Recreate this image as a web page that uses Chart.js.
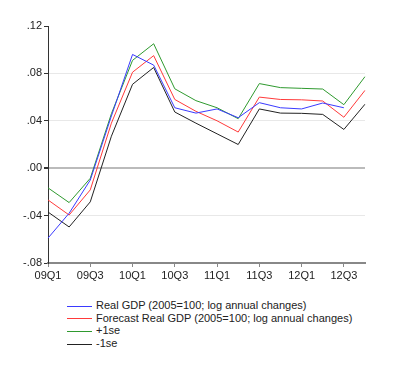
<!DOCTYPE html>
<html>
<head>
<meta charset="utf-8">
<script src="https://cdn.jsdelivr.net/npm/chart.js@4"></script>
<style>
  body { margin: 0; background: #fff; }
  #wrap { position: relative; width: 400px; height: 375px; }
  #legend { position: absolute; left: 67px; top: 299px; font: 11px "Liberation Sans", Arial, sans-serif; color: #222; }
  .row { height: 12.7px; line-height: 12.7px; white-space: nowrap; }
  .swatch { display: inline-block; width: 25px; height: 1px; vertical-align: middle; margin-right: 4px; }
</style>
</head>
<body>
<div id="wrap">
  <canvas id="c" width="400" height="290"></canvas>
  <div id="legend"></div>
</div>
<script>
// --- DATA ---
const quarters = ['09Q1','09Q2','09Q3','09Q4','10Q1','10Q2','10Q3','10Q4',
                  '11Q1','11Q2','11Q3','11Q4','12Q1','12Q2','12Q3','12Q4'];
const realGdp  = [-0.059, -0.038, -0.010, 0.044, 0.096, 0.087, 0.051, 0.0465,
                  0.050, 0.0426, 0.0553, 0.051, 0.050, 0.055, 0.051];
const forecast = [-0.0268, -0.0395, -0.0183, 0.038, 0.081, 0.095, 0.058, 0.048,
                  0.040, 0.0305, 0.060, 0.058, 0.0577, 0.0567, 0.043, 0.0657];
const plus1se  = [-0.0166, -0.029, -0.0085, 0.046, 0.091, 0.105, 0.067, 0.057,
                  0.051, 0.0418, 0.0714, 0.068, 0.0674, 0.0668, 0.0536, 0.0773];
const minus1se = [-0.037, -0.0496, -0.0284, 0.027, 0.0708, 0.085, 0.0474, 0.038,
                  0.029, 0.020, 0.050, 0.0465, 0.0463, 0.0454, 0.0327, 0.054];
const yTicks = [-0.08, -0.04, 0, 0.04, 0.08, 0.12];

const series = [
  { label: 'Real GDP (2005=100; log annual changes)', data: realGdp, color: '#3a3aff' },
  { label: 'Forecast Real GDP (2005=100; log annual changes)', data: forecast, color: '#ff3a3a' },
  { label: '+1se', data: plus1se, color: '#2f9a2f' },
  { label: '-1se', data: minus1se, color: '#222222' }
];

// --- CHART ---
const font = { family: '"Liberation Sans", Arial, sans-serif', size: 11 };

new Chart(document.getElementById('c').getContext('2d'), {
    type: 'line',
    data: {
        labels: quarters,
        datasets: series.map(s => ({
            label: s.label,
            data: s.data,
            borderColor: s.color,
            backgroundColor: s.color,
            borderWidth: 1,
            pointRadius: 0,
            tension: 0,
            fill: false
        }))
    },
    options: {
        responsive: false,
        animation: false,
        layout: { padding: { top: 26, right: 35, left: 0, bottom: 0 } },
        plugins: { legend: { display: false }, tooltip: { enabled: false } },
        scales: {
            x: {
                offset: false,
                afterFit: s => { s.height = 27; },
                grid: { drawOnChartArea: false, drawTicks: true, tickLength: 4, color: '#888' },
                border: { color: '#888', width: 2 },
                ticks: {
                    autoSkip: false, maxRotation: 0, padding: 2, color: '#222', font: font,
                    callback: (v, i) => (i % 2 === 0 && i < quarters.length - 1) ? quarters[i] : null
                }
            },
            y: {
                min: yTicks[0],
                max: yTicks[yTicks.length - 1],
                afterFit: s => { s.width = 48; },
                afterBuildTicks: s => { s.ticks = yTicks.map(v => ({ value: v })); },
                border: { color: '#333', width: 1 },
                grid: {
                    tickLength: 4,
                    color: ctx => {
                        const v = ctx.tick ? ctx.tick.value : null;
                        if (v === 0) return '#bbb';
                        if (v === yTicks[yTicks.length - 1]) return 'rgba(0,0,0,0)';
                        return '#e8e8e8';
                    },
                    tickColor: '#333',
                    lineWidth: ctx => (ctx.tick && ctx.tick.value === 0) ? 2 : 1
                },
                ticks: {
                    padding: 2, color: '#222', font: font,
                    callback: v => v.toFixed(2).replace('0.', '.')
                }
            }
        }
    }
});

// --- LEGEND ---
const legend = document.getElementById('legend');
series.forEach(s => {
    const row = document.createElement('div');
    row.className = 'row';
    row.innerHTML = '<span class="swatch" style="background:' + s.color + '"></span>' + s.label;
    legend.appendChild(row);
});
</script>
</body>
</html>
